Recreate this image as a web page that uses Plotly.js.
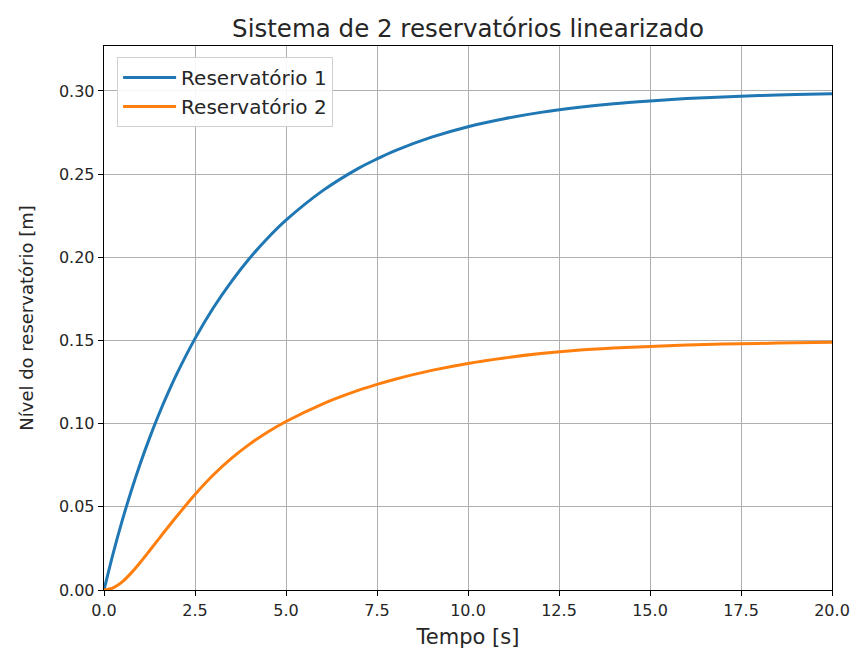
<!DOCTYPE html>
<html>
<head>
<meta charset="utf-8">
<script src="https://cdn.plot.ly/plotly-3.0.1.min.js"></script>
<style>html,body{margin:0;padding:0;background:#fff;}#chart{width:858px;height:653px;}</style>
</head>
<body>
<div id="chart"></div>
<script>
const tempo1 = [0, 0.25, 0.5, 0.75, 1, 1.25, 1.5, 1.75, 2, 2.5, 3, 3.5, 4, 4.5, 5, 6, 7, 7.5, 8, 9, 10, 11, 12, 13, 14, 15, 16, 17, 18, 19, 20];
const reservatorio1 = [0, 0.0219, 0.0417, 0.0597, 0.0762, 0.0913, 0.1052, 0.1180, 0.1299, 0.1511, 0.1695, 0.1854, 0.1994, 0.2116, 0.2223, 0.2399, 0.2536, 0.2591, 0.2641, 0.2722, 0.2785, 0.2833, 0.2871, 0.2900, 0.2923, 0.2940, 0.2954, 0.2964, 0.2972, 0.2979, 0.2983];
const tempo2 = [0, 0.25, 0.5, 0.75, 1, 1.25, 1.5, 2, 2.5, 3, 3.5, 4, 4.5, 5, 6, 7, 7.5, 8, 9, 10, 11, 12, 13, 14, 15, 16, 17, 18, 19, 20];
const reservatorio2 = [0, 0.0013, 0.0049, 0.0103, 0.0167, 0.0236, 0.0306, 0.0443, 0.0574, 0.0691, 0.0791, 0.0877, 0.0950, 0.1013, 0.1118, 0.1201, 0.1236, 0.1267, 0.1320, 0.1362, 0.1395, 0.1421, 0.1441, 0.1454, 0.1464, 0.1472, 0.1478, 0.1482, 0.1486, 0.1489];
const xTicks = [0, 2.5, 5, 7.5, 10, 12.5, 15, 17.5, 20];
const yTicks = [0, 0.05, 0.10, 0.15, 0.20, 0.25, 0.30];

const font = "DejaVu Sans, sans-serif";
const textColor = '#262626';
const traces = [
  {x: tempo1, y: reservatorio1, mode: 'lines', name: 'Reservatório 1',
   line: {color: '#1f77b4', width: 3, shape: 'spline', smoothing: 0.8}},
  {x: tempo2, y: reservatorio2, mode: 'lines', name: 'Reservatório 2',
   line: {color: '#ff7f0e', width: 3, shape: 'spline', smoothing: 0.8}}
];
const axisCommon = {
  showline: true, linecolor: '#000', linewidth: 1.3, mirror: true,
  ticks: 'outside', ticklen: 5, tickcolor: '#000', tickwidth: 1,
  showgrid: true, gridcolor: '#b0b0b0', gridwidth: 1, zeroline: false,
  tickfont: {family: font, size: 16, color: textColor}
};
const layout = {
  width: 858, height: 653,
  margin: {l: 104, r: 26, t: 46, b: 63},
  paper_bgcolor: '#fff', plot_bgcolor: '#fff',
  title: {text: 'Sistema de 2 reservatórios linearizado', font: {family: font, size: 24.5, color: textColor},
          x: 0.5455, xanchor: 'center', y: 0.957, yanchor: 'middle'},
  xaxis: Object.assign({}, axisCommon, {range: [0, 20], tickvals: xTicks, tickformat: '.1f',
          title: {text: 'Tempo [s]', font: {family: font, size: 21, color: textColor}, standoff: 10}}),
  yaxis: Object.assign({}, axisCommon, {range: [0, 0.327], tickvals: yTicks, tickformat: '.2f',
          title: {text: 'Nível do reservatório [m]', font: {family: font, size: 18, color: textColor}, standoff: 20}}),
  legend: {x: 0.018, y: 0.98, xanchor: 'left', yanchor: 'top', bgcolor: 'rgba(255,255,255,0.9)',
           bordercolor: '#d0d0d0', borderwidth: 1, itemwidth: 53,
           font: {family: font, size: 20, color: textColor}},
  showlegend: true
};
Plotly.newPlot('chart', traces, layout, {displayModeBar: false, staticPlot: true});
</script>
</body>
</html>
